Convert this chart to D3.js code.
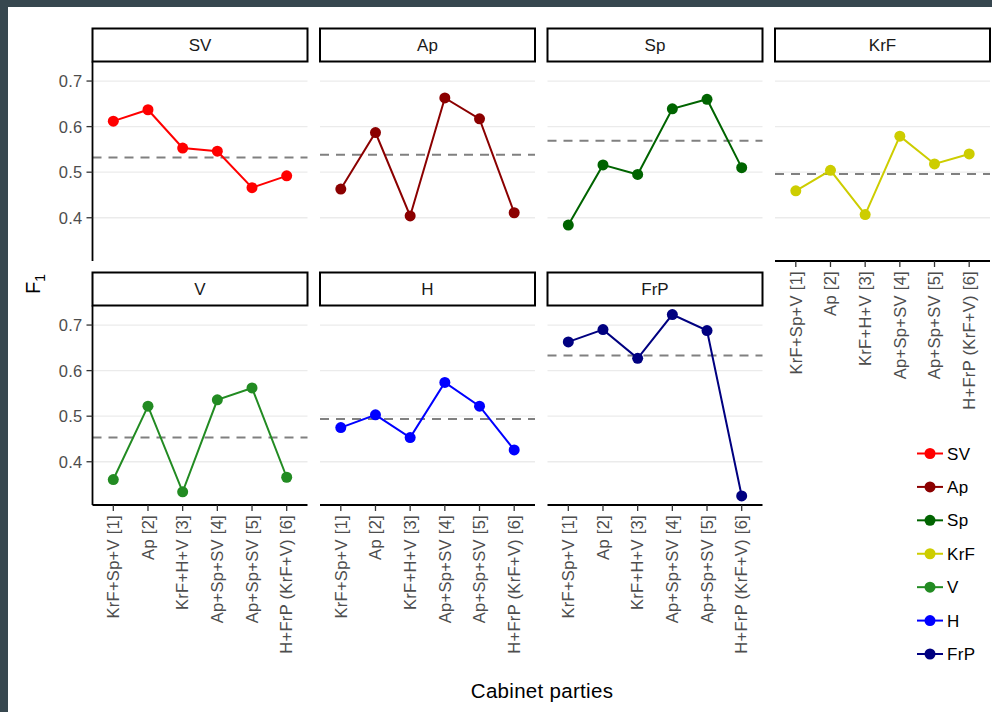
<!DOCTYPE html>
<html>
<head>
<meta charset="utf-8">
<script src="https://cdn.jsdelivr.net/npm/d3@7"></script>
<style>
  html, body { margin: 0; padding: 0; background: #ffffff; }
  svg { display: block; font-family: "Liberation Sans", Arial, sans-serif; }
</style>
</head>
<body>
<svg id="chart" width="992" height="712"></svg>
<script>
// Cabinet options on the x axis (shared by every facet)
const cabinets = ["KrF+Sp+V [1]", "Ap [2]", "KrF+H+V [3]", "Ap+Sp+SV [4]", "Ap+Sp+SV [5]", "H+FrP (KrF+V) [6]"];

// Parties, one facet each, in facet order
const parties = ["SV", "Ap", "Sp", "KrF", "V", "H", "FrP"];
const partyColors = ["#ff0000", "#8b0000", "#006400", "#cdcd00", "#228b22", "#0000ff", "#000080"];

// F1 score of each party for each cabinet
const f1SV  = [0.612, 0.637, 0.553, 0.546, 0.466, 0.492];
const f1Ap  = [0.463, 0.587, 0.404, 0.663, 0.617, 0.411];
const f1Sp  = [0.384, 0.516, 0.495, 0.639, 0.660, 0.510];
const f1KrF = [0.459, 0.504, 0.407, 0.579, 0.518, 0.540];
const f1V   = [0.361, 0.522, 0.334, 0.536, 0.562, 0.366];
const f1H   = [0.475, 0.503, 0.453, 0.574, 0.522, 0.426];
const f1FrP = [0.663, 0.690, 0.627, 0.723, 0.688, 0.325];

// Reference level (dashed line) per party
const refLevels = [0.532, 0.538, 0.569, 0.496, 0.453, 0.494, 0.633];

const yTicks = [0.4, 0.5, 0.6, 0.7];

const series = [f1SV, f1Ap, f1Sp, f1KrF, f1V, f1H, f1FrP];

const svg = d3.select("#chart");

// dark frame along the top and left edges
svg.append("rect").attr("x", 0).attr("y", 0).attr("width", 992).attr("height", 7).attr("fill", "#37474f");
svg.append("rect").attr("x", 0).attr("y", 0).attr("width", 8).attr("height", 712).attr("fill", "#37474f");

// facet layout
const ncol = 4;
const colLeft = [92.5, 320, 547.5, 775];
const panelW = 215;
const stripH = 33;
const rowStripTop = [28.5, 272.5];
const panelH = 199.5;

// shared y scale domain: data range with 5% padding
const allVals = series.flat();
const yMin = d3.min(allVals), yMax = d3.max(allVals);
const pad = (yMax - yMin) * 0.05;

const x = d3.scalePoint().domain(cabinets).range([0, panelW]).padding(0.6);

const tickColor = "#333333";
const tickTextColor = "#4d4d4d";

parties.forEach((party, i) => {
  const row = Math.floor(i / ncol), col = i % ncol;
  const left = colLeft[col];
  const stripTop = rowStripTop[row];
  const top = stripTop + stripH;
  const y = d3.scaleLinear().domain([yMin - pad, yMax + pad]).range([panelH, 0]);

  const g = svg.append("g").attr("transform", `translate(${left},${top})`);

  // horizontal grid lines
  g.append("g").selectAll("line").data(yTicks).join("line")
    .attr("x1", 0).attr("x2", panelW)
    .attr("y1", d => y(d)).attr("y2", d => y(d))
    .attr("stroke", "#ebebeb").attr("stroke-width", 1.3);

  // reference level
  g.append("line")
    .attr("x1", 0).attr("x2", panelW)
    .attr("y1", y(refLevels[i])).attr("y2", y(refLevels[i]))
    .attr("stroke", "#808080").attr("stroke-width", 2)
    .attr("stroke-dasharray", "9,7");

  const pts = series[i].map((v, k) => ({ c: cabinets[k], v }));
  const line = d3.line().x(d => x(d.c)).y(d => y(d.v));
  g.append("path").datum(pts)
    .attr("d", line).attr("fill", "none")
    .attr("stroke", partyColors[i]).attr("stroke-width", 2);
  g.append("g").selectAll("circle").data(pts).join("circle")
    .attr("cx", d => x(d.c)).attr("cy", d => y(d.v)).attr("r", 5.5)
    .attr("fill", partyColors[i]);

  // facet strip
  svg.append("rect")
    .attr("x", left).attr("y", stripTop).attr("width", panelW).attr("height", stripH)
    .attr("fill", "#ffffff").attr("stroke", "#000000").attr("stroke-width", 2);
  svg.append("text")
    .attr("x", left + panelW / 2).attr("y", stripTop + stripH / 2)
    .attr("dy", "0.36em").attr("text-anchor", "middle")
    .attr("font-size", 17).attr("fill", "#1a1a1a")
    .text(party);

  // y axis on the first column
  if (col === 0) {
    const ya = g.append("g");
    ya.append("line").attr("x1", 0).attr("x2", 0).attr("y1", 0).attr("y2", panelH)
      .attr("stroke", "#000").attr("stroke-width", 1.8);
    const t = ya.selectAll("g.tick").data(yTicks).join("g")
      .attr("transform", d => `translate(0,${y(d)})`);
    t.append("line").attr("x1", -6).attr("x2", 0).attr("stroke", tickColor).attr("stroke-width", 1.3);
    t.append("text").attr("x", -10).attr("dy", "0.36em").attr("text-anchor", "end")
      .attr("font-size", 16.5).attr("letter-spacing", 0.3).attr("fill", tickTextColor)
      .text(d3.format(".1f"));
  }

  // x axis on the lowest panel of each column
  const lowest = (row === 1) || (col === ncol - 1);
  if (lowest) {
    const xa = g.append("g").attr("transform", `translate(0,${panelH})`);
    xa.append("line").attr("x1", 0).attr("x2", panelW)
      .attr("stroke", "#000").attr("stroke-width", 1.8);
    const t = xa.selectAll("g.tick").data(cabinets).join("g")
      .attr("transform", d => `translate(${x(d)},0)`);
    t.append("line").attr("y1", 0).attr("y2", 6).attr("stroke", tickColor).attr("stroke-width", 1.3);
    t.append("text")
      .attr("transform", "translate(0,10) rotate(-90)")
      .attr("dy", "0.35em").attr("text-anchor", "end")
      .attr("font-size", 16.5).attr("letter-spacing", 0.3).attr("fill", tickTextColor)
      .text(d => d);
  }
});

// axis titles
svg.append("text")
  .attr("x", 542).attr("y", 698)
  .attr("text-anchor", "middle").attr("font-size", 20.5).attr("letter-spacing", 0.3)
  .attr("fill", "#000").text("Cabinet parties");

const yTitle = svg.append("text")
  .attr("transform", "translate(40,284) rotate(-90)")
  .attr("text-anchor", "middle").attr("font-size", 20).attr("fill", "#000");
yTitle.append("tspan").text("F");
yTitle.append("tspan").attr("font-size", 14).attr("dy", 5).text("1");

// legend
const legend = svg.append("g");
const ly = d3.scalePoint().domain(parties).range([453.5, 654]);
const li = legend.selectAll("g").data(parties).join("g")
  .attr("transform", d => `translate(930,${ly(d)})`);
li.append("line").attr("x1", -13).attr("x2", 13)
  .attr("stroke", (d, k) => partyColors[k]).attr("stroke-width", 2);
li.append("circle").attr("r", 5.5).attr("fill", (d, k) => partyColors[k]);
li.append("text").attr("x", 17).attr("dy", "0.36em")
  .attr("font-size", 17).attr("letter-spacing", 0.3).attr("fill", "#000").text(d => d);
</script>
</body>
</html>
